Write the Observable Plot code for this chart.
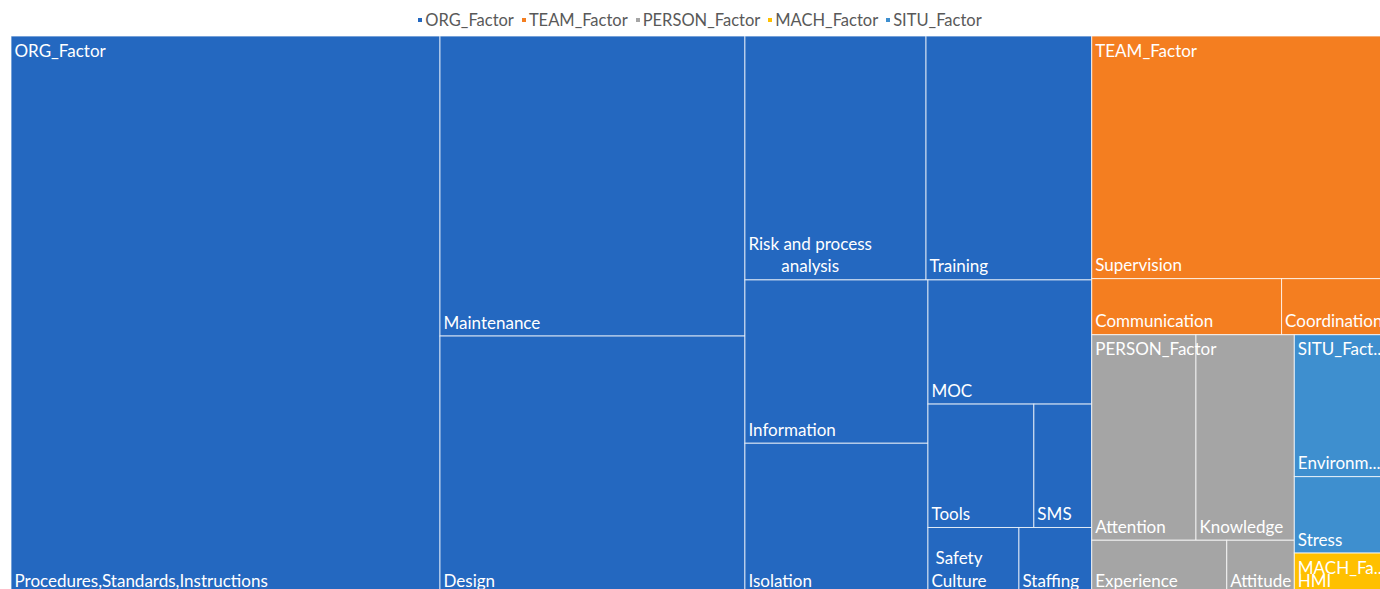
<!DOCTYPE html>
<html><head><meta charset="utf-8">
<script src="https://cdn.jsdelivr.net/npm/d3@7"></script>
<script src="https://cdn.jsdelivr.net/npm/@observablehq/plot@0.6"></script>
<style>
html,body{margin:0;padding:0;overflow:hidden;background:#fff;width:1380px;height:589px}
#legend{width:1394px;box-sizing:border-box;padding:3px 0 0 6px;height:36px;display:flex;justify-content:center;align-items:center;font:16.5px Lato, sans-serif;color:#595959;white-space:nowrap}
#legend .item{display:flex;align-items:center;margin:0 4px}
#legend .sw{width:4px;height:4px;margin-right:3px}
#chart svg{max-width:none !important;display:block}
</style></head><body>
<div id="legend"></div>
<div id="chart"></div>
<script>
// Categories (top level, in legend order) and their colours
const groups = ["ORG_Factor", "TEAM_Factor", "PERSON_Factor", "MACH_Factor", "SITU_Factor"];
const groupColors = ["#2468c0", "#f47e20", "#a5a5a5", "#ffc000", "#3e8fcf"];

// Sub-factors and values per group
const orgFactors = ["Procedures,Standards,Instructions", "Maintenance", "Design", "Risk and process analysis", "Training", "Information", "Isolation", "MOC", "Tools", "SMS", "Safety Culture", "Staffing"];
const orgValues = [197.8, 75.6, 65.0, 36.5, 33.4, 24.7, 22.8, 16.8, 10.8, 5.9, 5.0, 4.0];
const teamFactors = ["Supervision", "Communication", "Coordination"];
const teamValues = [58.4, 8.8, 4.7];
const personFactors = ["Attention", "Knowledge", "Experience", "Attitude"];
const personValues = [17.7, 16.7, 6.0, 3.0];
const machFactors = ["HMI"];
const machValues = [3.0];
const situFactors = ["Environment", "Stress"];
const situValues = [10.4, 5.6];

const factorLists = [orgFactors, teamFactors, personFactors, machFactors, situFactors];
const valueLists = [orgValues, teamValues, personValues, machValues, situValues];

// Legend
const legend = document.getElementById("legend");
groups.forEach((g, i) => {
  const it = document.createElement("div"); it.className = "item";
  const sw = document.createElement("div"); sw.className = "sw"; sw.style.background = groupColors[i];
  const tx = document.createElement("span"); tx.textContent = g;
  it.appendChild(sw); it.appendChild(tx); legend.appendChild(it);
});

// Treemap layout
const W = 1372, H = 558;
const data = {name: "root", children: groups.map((g, i) => ({
  name: g, children: factorLists[i].map((n, j) => ({name: n, value: valueLists[i][j]}))
}))};
const root = d3.hierarchy(data).sum(d => d.children ? 0 : d.value).sort((a, b) => b.value - a.value);
d3.treemap().tile(d3.treemapSquarify.ratio(1.3)).size([W, H])(root);
const leaves = root.leaves();
const parents = root.children;

// text measuring
const FS = 17;
const ctx = document.createElement("canvas").getContext("2d");
ctx.font = FS + "px Lato";
const mw = s => ctx.measureText(s).width;
function truncate(s, avail) {
  if (mw(s) <= avail) return s;
  let t = s;
  while (t.length > 1 && mw(t + "...") > avail) t = t.slice(0, -1);
  return t + "...";
}
function fitLines(name, width) {
  if (mw(name) <= width - 2) return [name];
  const avail = width - 8;
  const words = name.split(" ");
  if (words.length > 1) {
    const lines = []; let cur = "";
    for (const w of words) {
      const t = cur ? cur + " " + w : w;
      if (mw(t) <= avail || !cur) cur = t; else { lines.push(cur); cur = w; }
    }
    lines.push(cur);
    if (lines.every(l => mw(l) <= avail)) return lines;
  }
  return [truncate(name, width - 2)];
}
const leafLabels = leaves.map(d => {
  const lines = fitLines(d.data.name, d.x1 - d.x0);
  const maxW = Math.max(...lines.map(mw));
  return {node: d, lines, maxW};
});
const single = leafLabels.filter(l => l.lines.length === 1);
const multi = leafLabels.filter(l => l.lines.length > 1);
const parentLabels = parents.map(p => ({node: p, text: truncate(p.data.name, p.x1 - p.x0 + 1)}));

const chart = Plot.plot({
  width: 1394, height: H,
  marginTop: 0, marginBottom: 0, marginLeft: 11, marginRight: 11,
  x: {domain: [0, W], axis: null},
  y: {domain: [0, H], reverse: true, axis: null},
  color: {domain: groups, range: groupColors},
  style: {fontFamily: "Lato, sans-serif", maxWidth: "none", overflow: "visible"},
  marks: [
    Plot.rect(leaves, {x1: d => d.x0, x2: d => d.x1, y1: d => d.y0, y2: d => d.y1, fill: d => d.parent.data.name, stroke: "white", strokeOpacity: 0.75, strokeWidth: 1, inset: 0}),
    Plot.text(single, {x: d => d.node.x0, y: d => d.node.y1, text: d => d.lines[0], textAnchor: "start", lineAnchor: "bottom", dx: 3, dy: -8, fill: "white", fontSize: FS}),
    Plot.text(multi, {x: d => d.node.x0 + 3 + d.maxW / 2, y: d => d.node.y1, text: d => d.lines.join("\n"), textAnchor: "middle", lineAnchor: "bottom", lineHeight: 1.33, dy: -8, fill: "white", fontSize: FS}),
    Plot.text(parentLabels, {x: d => d.node.x0, y: d => d.node.y0, text: d => d.text, textAnchor: "start", lineAnchor: "top", dx: 3, dy: 8, fill: "white", fontSize: FS})
  ]
});
document.getElementById("chart").appendChild(chart);
</script>
</body></html>
